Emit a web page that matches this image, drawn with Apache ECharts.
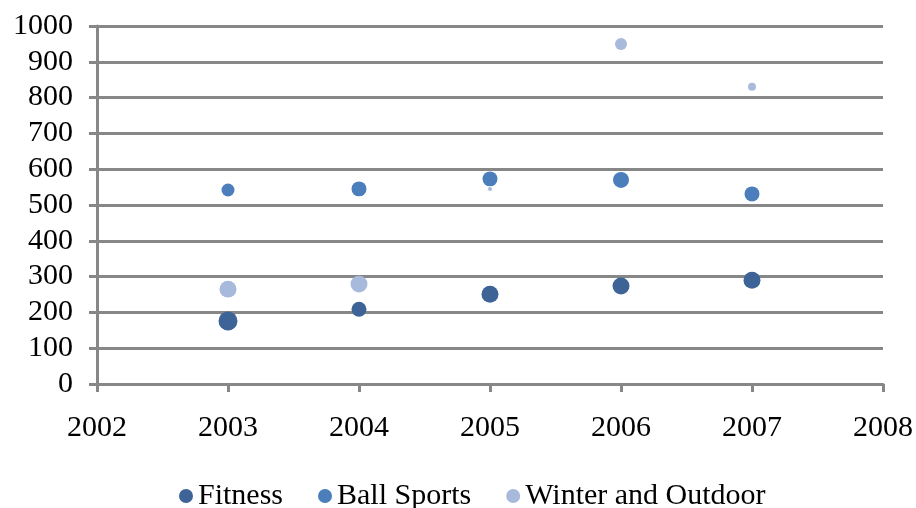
<!DOCTYPE html>
<html>
<head>
<meta charset="utf-8">
<script src="https://cdn.jsdelivr.net/npm/echarts@6/dist/echarts.min.js"></script>
<style>
  html, body { margin: 0; padding: 0; background: #fff; }
  #chart { width: 916px; height: 508px; }
</style>
</head>
<body>
<div id="chart"></div>
<script>
// Yearly values per segment, with a bubble weight for each point
const years = [2003, 2004, 2005, 2006, 2007];
const fitness = [176, 209, 251, 274, 290];
const fitnessWeight = [90, 56, 72, 72, 72];
const ballSports = [542, 545, 573, 570, 531];
const ballSportsWeight = [42, 56, 56, 64, 56];
const winterOutdoor = [265, 279, 545, 950, 830];
const winterOutdoorWeight = [72, 72, 4, 36, 16];

const seriesNames = ['Fitness', 'Ball Sports', 'Winter and Outdoor'];
const colors = ['#3e6497', '#4b7ebb', '#a8badc'];

const font = '"Liberation Serif", "Times New Roman", serif';

function points(vals, weights) {
  return years.map((y, i) => [y, vals[i], weights[i]]);
}

const plain = v => String(v);

const chart = echarts.init(document.getElementById('chart'));
chart.setOption({
  animation: false,
  grid: { left: 97, right: 33, top: 26, bottom: 124 },
  xAxis: {
    type: 'value',
    min: 2002, max: 2008, interval: 1,
    axisLine: { show: true, lineStyle: { color: '#878787', width: 3 } },
    axisTick: { show: true, length: 8, lineStyle: { color: '#878787', width: 3 } },
    splitLine: { show: false },
    axisLabel: { color: '#000', fontFamily: font, fontSize: 30, margin: 29, formatter: plain }
  },
  yAxis: {
    type: 'value',
    min: 0, max: 1000, interval: 100,
    axisLine: { show: true, lineStyle: { color: '#878787', width: 3 } },
    axisTick: { show: true, length: 8, lineStyle: { color: '#878787', width: 3 } },
    splitLine: { show: true, lineStyle: { color: '#878787', width: 3 } },
    axisLabel: { color: '#000', fontFamily: font, fontSize: 30, margin: 24, formatter: plain }
  },
  legend: {
    left: 174, top: 476,
    itemWidth: 14, itemHeight: 14, itemGap: 35,
    icon: 'circle',
    textStyle: { color: '#000', fontFamily: font, fontSize: 30 },
    data: seriesNames
  },
  series: [
    [fitness, fitnessWeight],
    [ballSports, ballSportsWeight],
    [winterOutdoor, winterOutdoorWeight]
  ].map((s, k) => ({
    name: seriesNames[k],
    type: 'scatter',
    data: points(s[0], s[1]),
    symbol: 'circle',
    symbolSize: d => 2 * Math.sqrt(d[2]),
    itemStyle: { color: colors[k], opacity: 1 },
    z: 3 + k
  }))
});
</script>
</body>
</html>
